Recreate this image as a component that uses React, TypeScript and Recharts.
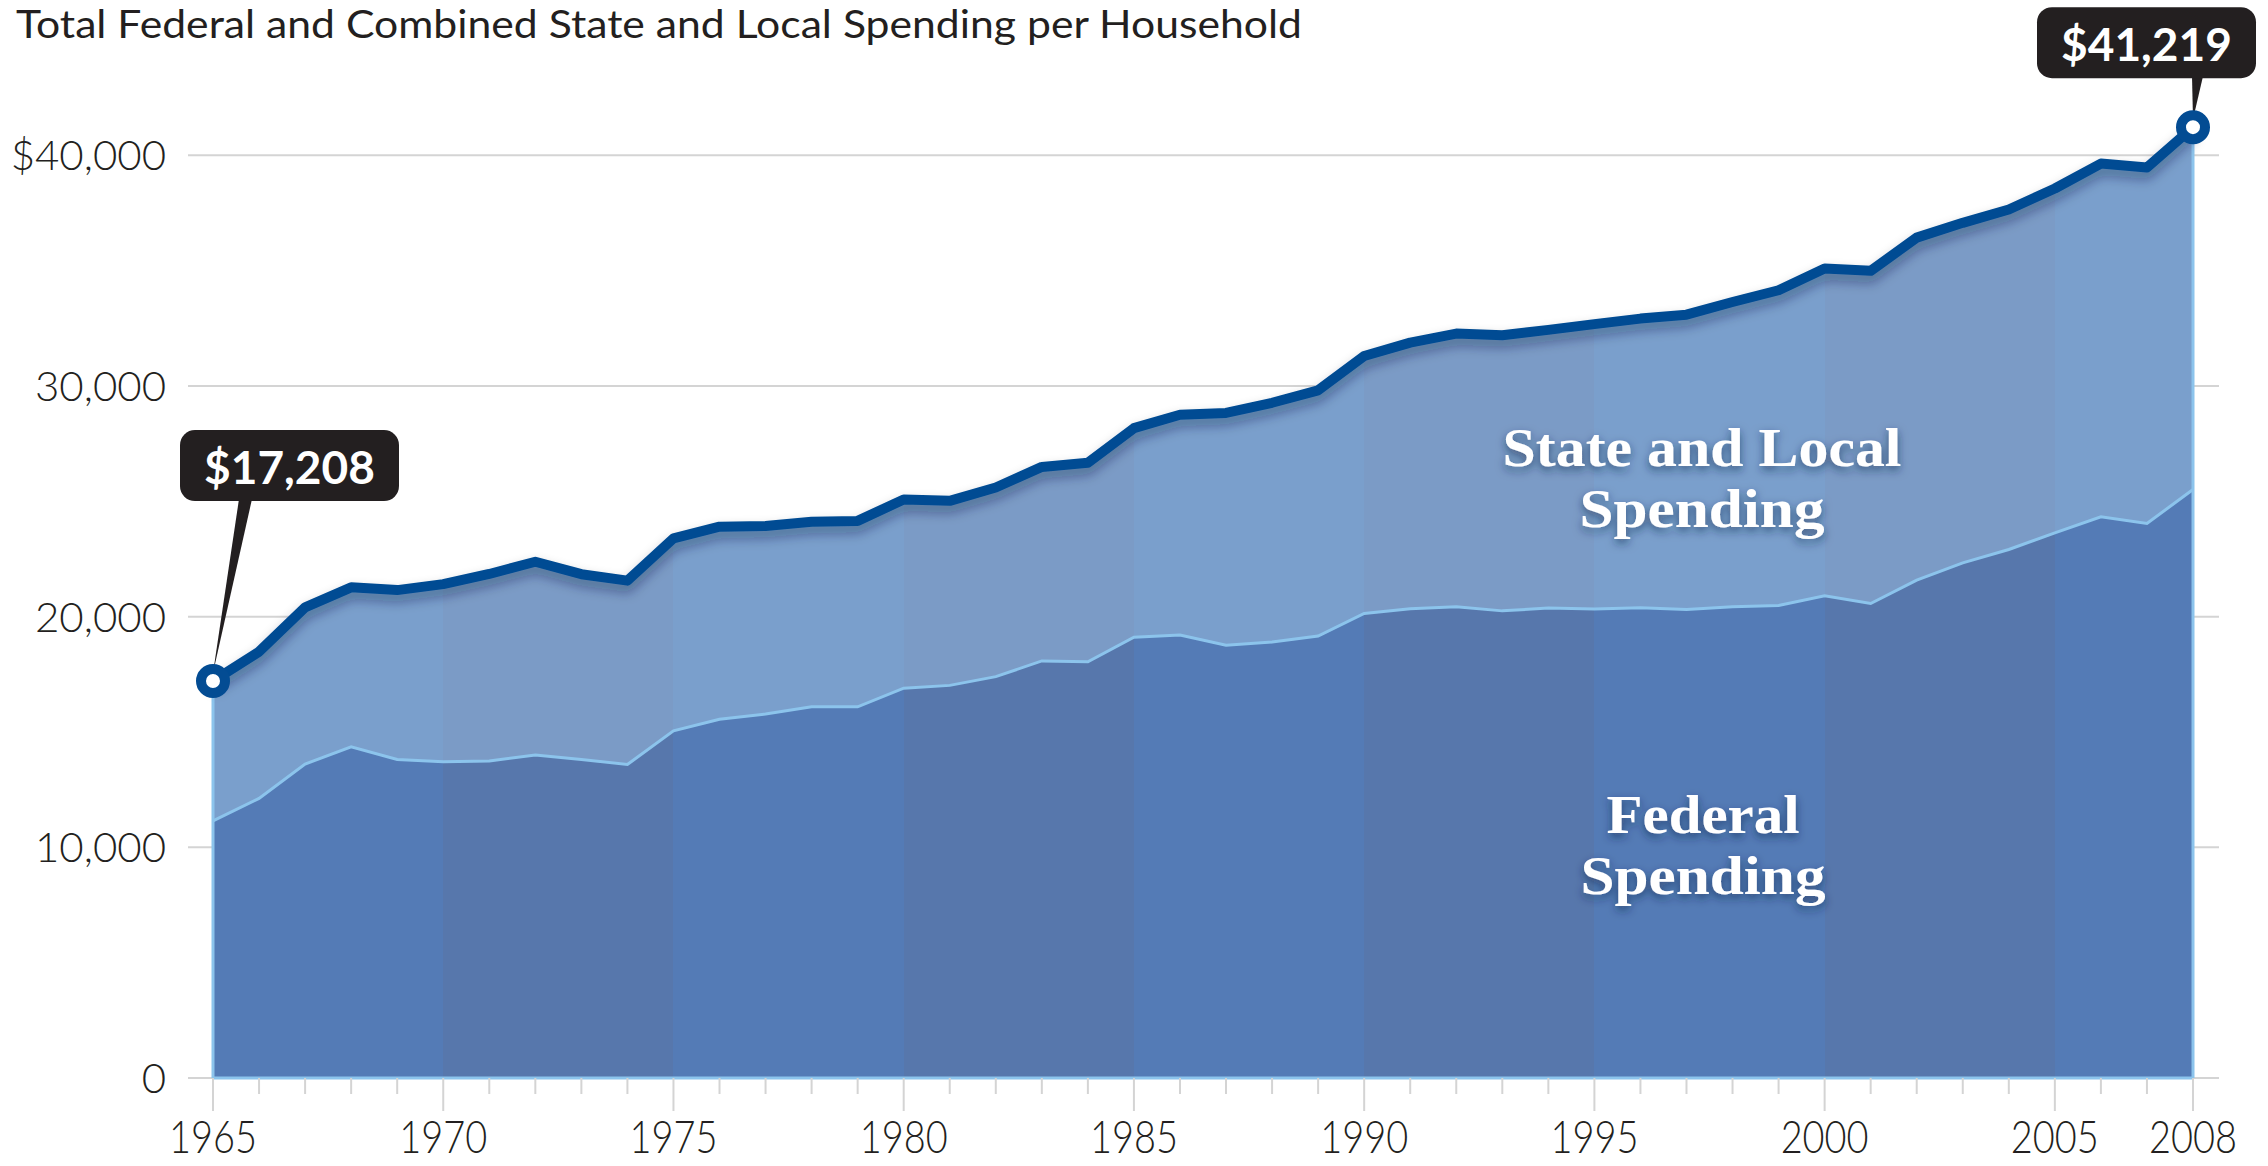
import React from 'react';
import { ComposedChart, Area, Line, XAxis, YAxis, CartesianGrid, ReferenceLine } from 'recharts';

if (typeof document !== 'undefined') {
  document.body.style.margin = '0';
  document.body.style.overflow = 'hidden';
}

// ---------- data ----------
const years = [
  1965, 1966, 1967, 1968, 1969, 1970, 1971, 1972, 1973, 1974,
  1975, 1976, 1977, 1978, 1979, 1980, 1981, 1982, 1983, 1984,
  1985, 1986, 1987, 1988, 1989, 1990, 1991, 1992, 1993, 1994,
  1995, 1996, 1997, 1998, 1999, 2000, 2001, 2002, 2003, 2004,
  2005, 2006, 2007, 2008,
];

const totalSpending = [
  17208, 18480, 20400, 21270, 21150, 21410, 21850, 22380, 21840, 21560,
  23390, 23900, 23930, 24110, 24150, 25080, 25020, 25600, 26490, 26670,
  28170, 28750, 28830, 29270, 29810, 31300, 31880, 32270, 32200, 32430,
  32680, 32920, 33090, 33640, 34150, 35090, 34990, 36430, 37070, 37650,
  38560, 39640, 39470, 41219,
];

const federalSpending = [
  11150, 12120, 13610, 14360, 13810, 13710, 13740, 14000, 13810, 13590,
  15050, 15550, 15780, 16090, 16090, 16900, 17020, 17400, 18080, 18040,
  19110, 19200, 18760, 18900, 19160, 20140, 20340, 20430, 20250, 20370,
  20330, 20380, 20310, 20430, 20480, 20900, 20570, 21580, 22330, 22910,
  23630, 24330, 24040, 25510,
];

const yTicks = [0, 10000, 20000, 30000, 40000];
const labeledYears = [1965, 1970, 1975, 1980, 1985, 1990, 1995, 2000, 2005, 2008];
const bandYears = [1965, 1970, 1975, 1980, 1985, 1990, 1995, 2000, 2005, 2008];

const title = 'Total Federal and Combined State and Local Spending per Household';
const stateLabel = ['State and Local', 'Spending'];
const federalLabel = ['Federal', 'Spending'];

const data = years.map((year, i) => ({
  year,
  total: totalSpending[i],
  federal: federalSpending[i],
}));

// ---------- styles ----------
const W = 2268;
const H = 1166;
const LINE_BLUE = '#034C93';
const EDGE_BLUE = '#8CC4EC';
const FED_LIGHT = '#547BB6';
const FED_DARK = '#5777AC';
const STATE_LIGHT = '#7A9FCC';
const STATE_DARK = '#7B9BC6';
const GRID = '#d4d4d4';
const TEXT = '#231F20';
const SANS = 'Lato, "Open Sans", "DejaVu Sans", sans-serif';
const SERIF = '"Liberation Serif", "DejaVu Serif", serif';

const bandStops = (light: string, dark: string) => {
  const first = years[0];
  const span = years[years.length - 1] - first;
  const stops: React.ReactElement[] = [];
  for (let b = 0; b < bandYears.length - 1; b++) {
    const c = b % 2 === 0 ? light : dark;
    stops.push(<stop key={`${b}a`} offset={(bandYears[b] - first) / span} stopColor={c} />);
    stops.push(<stop key={`${b}b`} offset={(bandYears[b + 1] - first) / span} stopColor={c} />);
  }
  return stops;
};

const XTick = (props: any) => {
  const { x, y, payload } = props;
  const v = payload.value as number;
  const major = bandYears.includes(v);
  const labeled = labeledYears.includes(v);
  return (
    <g>
      <line x1={x} x2={x} y1={y} y2={y + (major ? 33 : 16)} stroke={GRID} strokeWidth={2} />
      {labeled && (
        <text
          x={x}
          y={y + 75}
          textAnchor="middle"
          fontFamily={SANS}
          fontWeight={300}
          fontSize={45}
          fill={TEXT}
          textLength={88}
          lengthAdjust="spacingAndGlyphs"
        >
          {v}
        </text>
      )}
    </g>
  );
};

const Callout = ({ cx, cy, value, first }: { cx: number; cy: number; value: number; first: boolean }) => {
  const bw = 219;
  const bh = 71;
  const left = first ? cx - 33 : cx - 156;
  const top = first ? cy - 251 : cy - 120;
  const p1 = first ? cx + 26 : cx - 1;
  const p2 = first ? cx + 39 : cx + 10;
  const label = '$' + value.toLocaleString('en-US');
  return (
    <g>
      <polygon points={`${p1},${top + bh - 2} ${p2},${top + bh - 2} ${cx},${cy - 8}`} fill={TEXT} />
      <rect x={left} y={top} width={bw} height={bh} rx={15} ry={15} fill={TEXT} />
      <text x={left + bw / 2} y={top + 54} textAnchor="middle" fontFamily={SANS} fontWeight={700} fontSize={46} fill="#ffffff">
        {label}
      </text>
      <circle cx={cx} cy={cy} r={12} fill="#ffffff" stroke={LINE_BLUE} strokeWidth={10} />
    </g>
  );
};

const renderDot = (props: any) => {
  const { cx, cy, index, value, key } = props;
  if (index === 0 || index === years.length - 1) {
    return <Callout key={key ?? index} cx={cx} cy={cy} value={Array.isArray(value) ? value[1] : value} first={index === 0} />;
  }
  return <g key={key ?? index} />;
};

const AreaLabel = ({ x, y, text, width }: { x: number; y: number; text: string; width: number }) => (
  <text x={x} y={y} textLength={width} lengthAdjust="spacingAndGlyphs">
    {text}
  </text>
);

export default function App() {
  const firstYear = years[0];
  const lastYear = years[years.length - 1];
  return (
    <div style={{ position: 'relative', width: W, height: H, background: '#ffffff', overflow: 'hidden' }}>
      <ComposedChart
        width={W}
        height={H}
        data={data}
        margin={{ top: 63, right: 49, bottom: 0, left: 0 }}
      >
        <defs>
          <linearGradient id="fedBands" x1="0" y1="0" x2="1" y2="0">
            {bandStops(FED_LIGHT, FED_DARK)}
          </linearGradient>
          <linearGradient id="stateBands" x1="0" y1="0" x2="1" y2="0">
            {bandStops(STATE_LIGHT, STATE_DARK)}
          </linearGradient>
          <filter id="lineShadow" x="-5%" y="-30%" width="110%" height="160%">
            <feDropShadow dx="0" dy="7" stdDeviation="6" floodColor="#0a1f3d" floodOpacity="0.4" />
          </filter>
        </defs>
        <CartesianGrid vertical={false} horizontalValues={yTicks} stroke={GRID} strokeWidth={2} />
        <XAxis
          dataKey="year"
          type="number"
          domain={[firstYear, lastYear]}
          ticks={years}
          interval={0}
          padding={{ left: 25, right: 26 }}
          axisLine={false}
          tickLine={false}
          tickSize={0}
          tickMargin={0}
          height={88}
          tick={<XTick />}
        />
        <YAxis
          type="number"
          domain={[0, 44000]}
          ticks={yTicks}
          width={188}
          axisLine={false}
          tickLine={false}
          tickSize={0}
          tickMargin={22}
          tick={{ fontFamily: SANS, fontWeight: 300, fontSize: 42, fill: TEXT }}
          tickFormatter={(v: number) => (v === 40000 ? '$' : '') + (v === 0 ? '0' : v.toLocaleString('en-US'))}
        />
        <Area
          dataKey="total"
          type="linear"
          fill="url(#stateBands)"
          fillOpacity={1}
          stroke="none"
          isAnimationActive={false}
        />
        <Area
          dataKey="federal"
          type="linear"
          fill="url(#fedBands)"
          fillOpacity={1}
          stroke={EDGE_BLUE}
          strokeWidth={3}
          isAnimationActive={false}
        />
        <ReferenceLine
          segment={[{ x: firstYear, y: 0 }, { x: firstYear, y: totalSpending[0] }]}
          stroke={EDGE_BLUE}
          strokeWidth={3}
        />
        <ReferenceLine
          segment={[{ x: lastYear, y: 0 }, { x: lastYear, y: totalSpending[totalSpending.length - 1] }]}
          stroke={EDGE_BLUE}
          strokeWidth={3}
        />
        <ReferenceLine
          segment={[{ x: firstYear, y: 0 }, { x: lastYear, y: 0 }]}
          stroke={EDGE_BLUE}
          strokeWidth={3}
        />
        <Line
          dataKey="total"
          type="linear"
          stroke={LINE_BLUE}
          strokeWidth={10}
          strokeLinejoin="round"
          filter="url(#lineShadow)"
          dot={renderDot}
          activeDot={false}
          isAnimationActive={false}
        />
      </ComposedChart>

      <svg
        width={W}
        height={H}
        style={{ position: 'absolute', left: 0, top: 0, pointerEvents: 'none' }}
      >
        <defs>
          <filter id="textShadow" x="-10%" y="-30%" width="120%" height="160%">
            <feDropShadow dx="0" dy="4" stdDeviation="5" floodColor="#14264a" floodOpacity="0.6" />
          </filter>
        </defs>
        <text
          x={16}
          y={38}
          fontFamily={SANS}
          fontSize={38}
          fill={TEXT}
          textLength={1286}
          lengthAdjust="spacingAndGlyphs"
        >
          {title}
        </text>
        <g
          filter="url(#textShadow)"
          fontFamily={SERIF}
          fontWeight={700}
          fontSize={55}
          fill="#ffffff"
          textAnchor="middle"
        >
          <AreaLabel x={1702} y={466} text={stateLabel[0]} width={399} />
          <AreaLabel x={1702} y={527} text={stateLabel[1]} width={245} />
          <AreaLabel x={1703} y={833} text={federalLabel[0]} width={193} />
          <AreaLabel x={1703} y={894} text={federalLabel[1]} width={245} />
        </g>
      </svg>
    </div>
  );
}
